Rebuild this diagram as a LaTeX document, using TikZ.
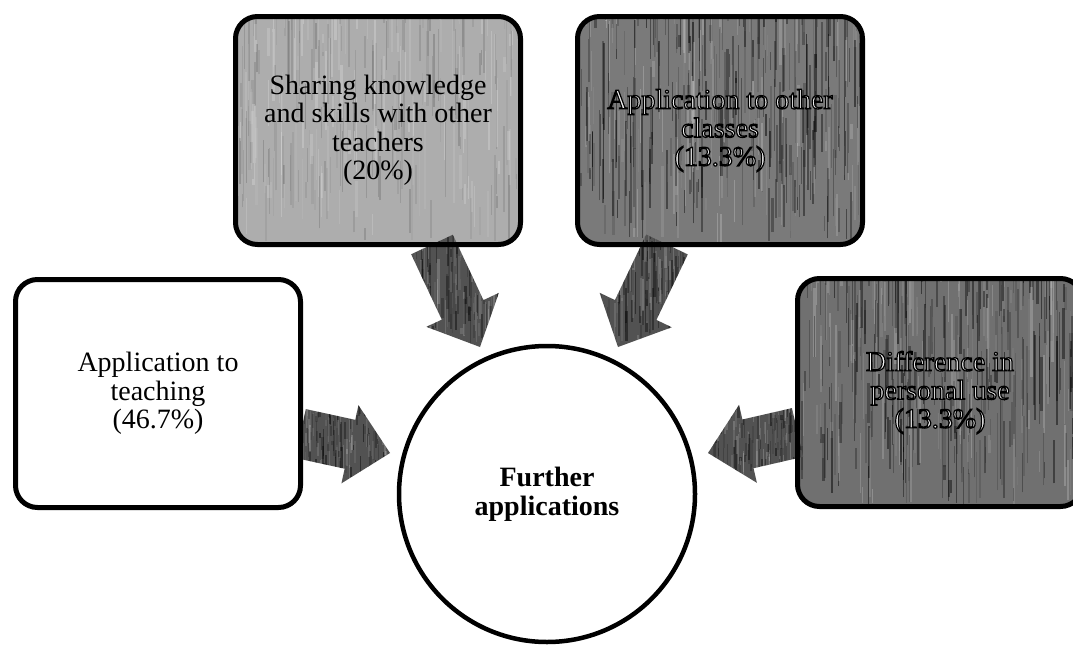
\documentclass[tikz,border=0pt]{standalone}
\usepackage{fontspec}
\setmainfont{Liberation Serif}
\usetikzlibrary{calc}

\pgfdeclarelayer{paper}
\pgfdeclarelayer{under}
\pgfsetlayers{paper,under,main}

% random vertical streaks inside the current path picture
\newcommand{\streaks}[4]{% #1 count, #2 colour, #3 peak opacity, #4 seed
  \pgfmathsetseed{#4}%
  \foreach \k in {1,...,#1}{%
    \pgfmathsetmacro{\stx}{rnd}%
    \pgfmathsetmacro{\sty}{rnd}%
    \pgfmathsetmacro{\stl}{0.05+0.35*rnd}%
    \pgfmathsetmacro{\stw}{0.5+2.2*rnd}%
    \pgfmathsetmacro{\sto}{#3*(0.2+0.8*rnd)}%
    \draw[#2, line width=\stw pt, opacity=\sto]
      let \p1=(path picture bounding box.south west),
          \p2=(path picture bounding box.north east) in
      ({\x1+\stx*(\x2-\x1)},{\y1+\sty*(\y2-\y1)}) -- ++(0pt,{\stl*(\y2-\y1)});
  }%
}

% light letters with a dark outline (fill and stroke text rendering)
\newcommand{\outlined}[1]{%
  \special{pdf:literal direct 0 G 1.2 w 2 Tr}#1\special{pdf:literal direct 0 Tr}}

% block arrow from a tail point to a tip point
\newcommand{\blockarrow}[5]{% #1 name, #2 tail, #3 tip, #4 shaft half-width, #5 seed
  \coordinate (#1-n) at ($(#3)!41pt!(#2)$);
  \coordinate (#1-a) at ($(#2)!#4!90:(#3)$);
  \coordinate (#1-b) at ($(#1-n)!#4!-90:(#2)$);
  \coordinate (#1-c) at ($(#1-n)!40pt!-90:(#2)$);
  \coordinate (#1-d) at ($(#1-n)!40pt!90:(#2)$);
  \coordinate (#1-e) at ($(#1-n)!#4!90:(#2)$);
  \coordinate (#1-f) at ($(#2)!#4!-90:(#3)$);
  \fill[arrowfill, path picture={\streaks{90}{black}{0.45}{#5}\streaks{60}{white}{0.2}{#51}}]
    (#1-a) -- (#1-b) -- (#1-c) -- (#3) -- (#1-d) -- (#1-e) -- (#1-f) -- cycle;
}

\tikzset{
  paneltext/.style={font=\fontsize{28}{28.5}\selectfont, align=center, inner sep=0pt},
  panel/.style={paneltext, draw=black, line width=5pt, rounded corners=22pt,
    minimum width=285pt, minimum height=228pt, outer sep=0pt},
  hub/.style={circle, draw=black, line width=4.5pt, fill=white, minimum size=296pt,
    inner sep=0pt, outer sep=0pt, align=center,
    font=\fontsize{28}{29}\selectfont\bfseries},
  arrowfill/.style={fill=black!68},
}

\begin{document}
\begin{tikzpicture}[x=1pt, y=-1pt]
\useasboundingbox (0,0) rectangle (1073,645);
\begin{pgfonlayer}{paper}
  \fill[white] (0,0) rectangle (1073,645);
\end{pgfonlayer}

% panels and hub
\node[panel, fill=white] (lt) at (158,393.5) {Application to\\teaching\\(46.7\%)};
\node[panel, text=black] (tm) at (378,130.5) {Sharing knowledge\\and skills with other\\teachers\\(20\%)};
\node[panel, text=black!6] (tr) at (720,130.5) {\outlined{Application to other\\classes\\(13.3\%)}};
\node[panel, text=black!6] (rt) at (940,392.5) {\outlined{Difference in\\personal use\\(13.3\%)}};
\node[hub] (fa) at (547,494) {Further\\applications};

\begin{pgfonlayer}{under}
  \fill[black!32, rounded corners=22pt,
        path picture={\streaks{160}{black}{0.16}{11}\streaks{120}{white}{0.22}{12}}]
    (tm.south west) rectangle (tm.north east);
  \fill[black!52, rounded corners=22pt,
        path picture={\streaks{260}{black}{0.5}{21}\streaks{120}{white}{0.22}{22}}]
    (tr.south west) rectangle (tr.north east);
  \fill[black!56, rounded corners=22pt,
        path picture={\streaks{260}{black}{0.5}{31}\streaks{120}{white}{0.22}{32}}]
    (rt.south west) rectangle (rt.north east);

  % arrow ends
  \coordinate (lt-out) at ($(lt.east)+(0,40)$);
  \coordinate (tm-out) at ($(tm.south)+(54,0)$);
  \coordinate (tr-out) at ($(tr.south)+(-53,0)$);
  \coordinate (rt-out) at ($(rt.west)+(0,40)$);
  \coordinate (fa-lt) at ($(fa.center)+(-157,-41)$);
  \coordinate (fa-tm) at ($(fa.center)+(-67,-147)$);
  \coordinate (fa-tr) at ($(fa.center)+(71,-147)$);
  \coordinate (fa-rt) at ($(fa.center)+(161,-41)$);

  \blockarrow{ar1}{lt-out}{fa-lt}{25pt}{4}
  \blockarrow{ar2}{tm-out}{fa-tm}{23pt}{5}
  \blockarrow{ar3}{tr-out}{fa-tr}{23pt}{6}
  \blockarrow{ar4}{rt-out}{fa-rt}{25pt}{7}
\end{pgfonlayer}
\end{tikzpicture}
\end{document}
